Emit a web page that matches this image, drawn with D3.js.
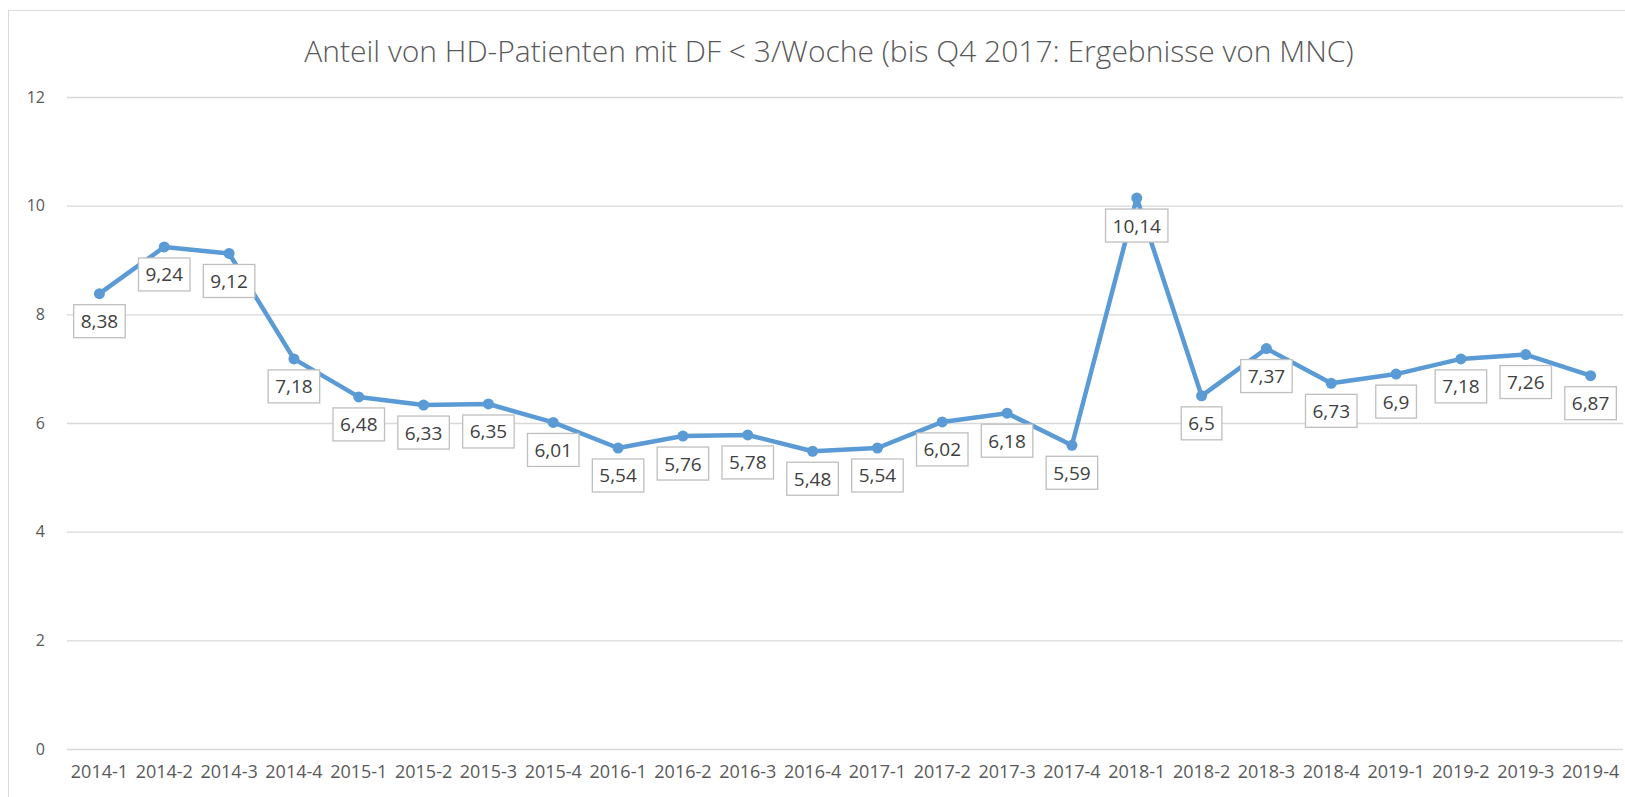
<!DOCTYPE html>
<html><head><meta charset="utf-8">
<script src="https://cdn.jsdelivr.net/npm/d3@7"></script>
<style>
html,body{margin:0;padding:0;background:#fff;}
svg{display:block;}
</style></head>
<body>
<svg id="chart" width="1625" height="797"></svg>
<script>
const titleText = "Anteil von HD-Patienten mit DF < 3/Woche (bis Q4 2017: Ergebnisse von MNC)";
const categories = ["2014-1","2014-2","2014-3","2014-4","2015-1","2015-2","2015-3","2015-4",
  "2016-1","2016-2","2016-3","2016-4","2017-1","2017-2","2017-3","2017-4",
  "2018-1","2018-2","2018-3","2018-4","2019-1","2019-2","2019-3","2019-4"];
const values = [8.38,9.24,9.12,7.18,6.48,6.33,6.35,6.01,5.54,5.76,5.78,5.48,5.54,6.02,6.18,5.59,
  10.14,6.5,7.37,6.73,6.9,7.18,7.26,6.87];
const yTicks = [0,2,4,6,8,10,12];

const svg = d3.select("#chart");
const plot = {left: 67, right: 1623, top: 97, bottom: 749};

// chart border
svg.append("rect").attr("x", 8.5).attr("y", 10.5).attr("width", 1700).attr("height", 900)
  .attr("fill", "#fff").attr("stroke", "#d9d9d9").attr("stroke-width", 1);

const x = d3.scaleBand().domain(categories).range([plot.left, plot.right]);
const y = d3.scaleLinear().domain([0, 12]).range([plot.bottom, plot.top]);

// title
svg.append("text").attr("x", 829).attr("y", 62).attr("text-anchor", "middle")
  .attr("font-family", "'Open Sans', sans-serif").attr("font-weight", 300)
  .attr("font-size", 30).attr("fill", "#595959").text(titleText);

// gridlines + y axis
const yAxis = d3.axisLeft(y).tickValues(yTicks).tickSize(-(plot.right - plot.left)).tickPadding(22);
const gy = svg.append("g").attr("transform", `translate(${plot.left},0)`).call(yAxis);
gy.select(".domain").remove();
gy.selectAll(".tick line").attr("stroke", "#d9d9d9").attr("stroke-width", 1.3);
gy.selectAll(".tick text").attr("font-family", "'Open Sans', sans-serif").attr("font-size", 16)
  .attr("fill", "#595959");

// x axis
const xAxis = d3.axisBottom(x).tickSize(0).tickPadding(16);
const gx = svg.append("g").attr("transform", `translate(0,${plot.bottom})`).call(xAxis);
gx.select(".domain").remove();
gx.selectAll(".tick text").attr("font-family", "'Open Sans', sans-serif").attr("font-size", 18)
  .attr("fill", "#595959");

const cx = d => x(d) + x.bandwidth() / 2;
const pts = categories.map((c, i) => ({c, v: values[i]}));

// line
svg.append("path").datum(pts)
  .attr("d", d3.line().x(d => cx(d.c)).y(d => y(d.v)))
  .attr("fill", "none").attr("stroke", "#5b9bd5").attr("stroke-width", 4.5)
  .attr("stroke-linejoin", "round");

svg.append("g").selectAll("circle").data(pts).join("circle")
  .attr("cx", d => cx(d.c)).attr("cy", d => y(d.v)).attr("r", 5.5).attr("fill", "#5b9bd5");

// data labels
const lg = svg.append("g");
pts.forEach(d => {
  const g = lg.append("g");
  const t = g.append("text").attr("x", cx(d.c)).attr("y", y(d.v) + 27.5)
    .attr("text-anchor", "middle").attr("dominant-baseline", "central")
    .attr("font-family", "'Open Sans', sans-serif").attr("font-size", 19)
    .attr("fill", "#404040").text(String(d.v).replace(".", ","));
  const w = t.node().getComputedTextLength() + 14;
  g.insert("rect", "text").attr("x", cx(d.c) - w / 2).attr("y", y(d.v) + 11)
    .attr("width", w).attr("height", 33).attr("fill", "#fff")
    .attr("stroke", "#bfbfbf").attr("stroke-width", 1.3);
});
</script>
</body></html>
